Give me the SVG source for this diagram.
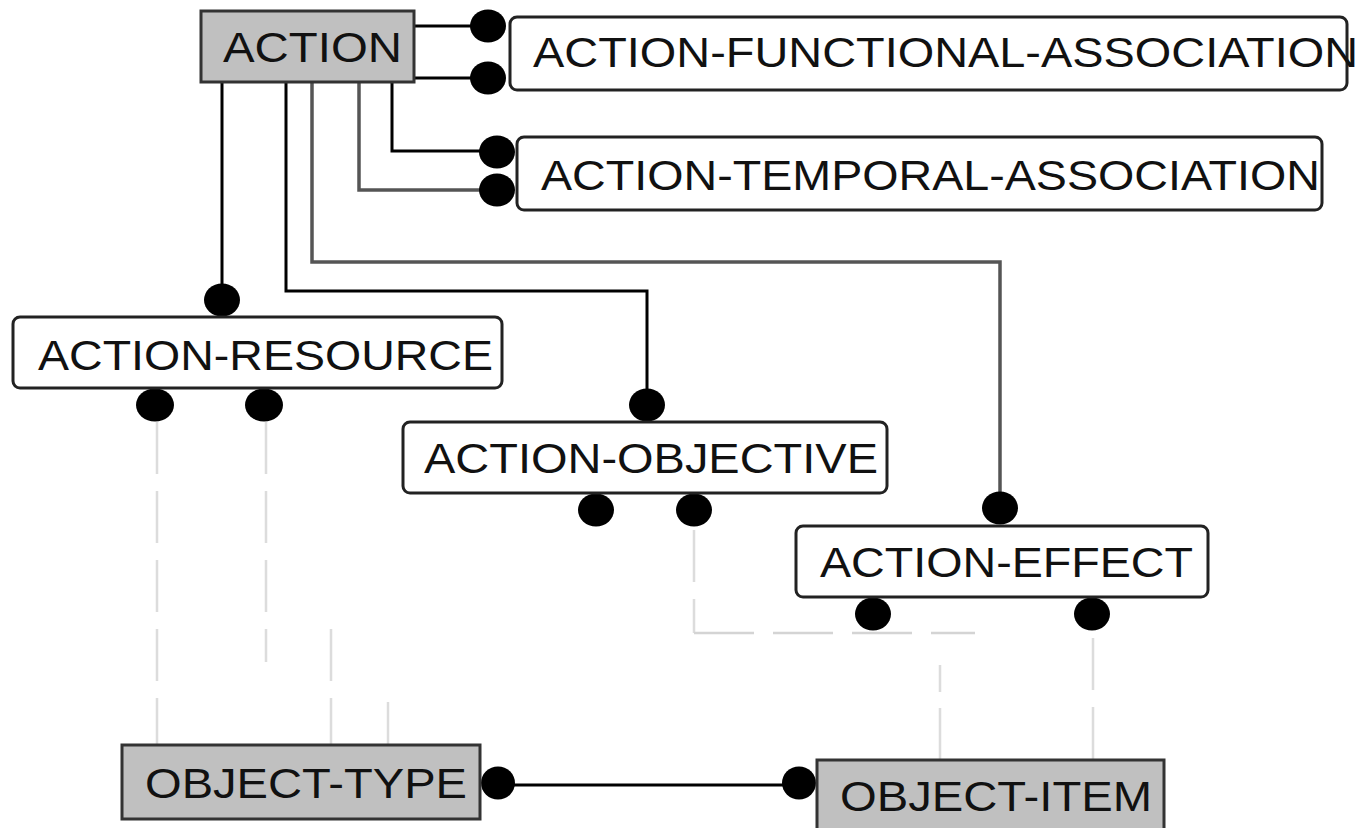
<svg xmlns="http://www.w3.org/2000/svg" width="1368" height="828" viewBox="0 0 1368 828">
<style>
.lbl{font-family:"Liberation Sans",Arial,sans-serif;font-size:42px;fill:#111}
.gbox{fill:#c0c0c0;stroke:#333;stroke-width:3}
.wbox{fill:#fff;stroke:#222;stroke-width:3}
.blk{fill:none;stroke:#000;stroke-width:3}
.gry{fill:none;stroke:#555;stroke-width:3.5}
.dsh{fill:none;stroke:#dcdcdc;stroke-width:2.5;stroke-dasharray:52 17}
.dshh{fill:none;stroke:#d4d4d4;stroke-width:2.5;stroke-dasharray:60 19}
.sol{fill:none;stroke:#dcdcdc;stroke-width:2.5}
.dot{fill:#000}
</style>
<rect width="1368" height="828" fill="#fff"/>
<g id="connectors">
<path class="blk" d="M415,26 H488"/>
<path class="blk" d="M415,78 H488"/>
<path class="blk" d="M392,82 V151 H497"/>
<path class="gry" d="M359,82 V190 H497"/>
<path class="blk" d="M222,82 V300"/>
<path class="blk" d="M286,82 V291 H647 V405"/>
<path class="gry" d="M312,82 V262 H1000 V508"/>
<path class="dsh" d="M157,422 V745"/>
<path class="dsh" d="M266,422 V662"/>
<path class="dsh" d="M331,629 V745"/>
<path class="sol" d="M388,702 V745"/>
<path class="dsh" d="M694,530 V633"/>
<path class="dshh" d="M694,633 H975"/>
<path class="dsh" d="M940,665 V760" style="stroke-dasharray:27 16 52"/>
<path class="dsh" d="M1093,638 V760"/>
<path class="blk" d="M498,785 H798"/>
<ellipse class="dot" cx="488" cy="26" rx="18" ry="16.5"/>
<ellipse class="dot" cx="488" cy="78" rx="18" ry="16.5"/>
<ellipse class="dot" cx="497" cy="152" rx="18" ry="16.5"/>
<ellipse class="dot" cx="497" cy="190" rx="18" ry="16.5"/>
<ellipse class="dot" cx="222" cy="300" rx="18" ry="16.5"/>
<ellipse class="dot" cx="155" cy="405" rx="19" ry="16.5"/>
<ellipse class="dot" cx="264" cy="405" rx="19" ry="16.5"/>
<ellipse class="dot" cx="647" cy="405" rx="18" ry="16.5"/>
<ellipse class="dot" cx="596" cy="510" rx="18" ry="16.5"/>
<ellipse class="dot" cx="694" cy="510" rx="18" ry="16.5"/>
<ellipse class="dot" cx="1000" cy="508" rx="18" ry="16.5"/>
<ellipse class="dot" cx="873" cy="614" rx="18" ry="16.5"/>
<ellipse class="dot" cx="1092" cy="614" rx="18" ry="16.5"/>
<ellipse class="dot" cx="498" cy="783" rx="17" ry="16.5"/>
<ellipse class="dot" cx="799" cy="783" rx="17" ry="16.5"/>
</g>
<g id="action">
<rect class="gbox" x="201" y="11" width="213" height="71"/>
<text class="lbl" x="223" y="62" textLength="179" lengthAdjust="spacingAndGlyphs">ACTION</text>
</g>
<g id="action-functional-association">
<rect class="wbox" x="510" y="17" width="837" height="73" rx="7"/>
<text class="lbl" x="533" y="67" textLength="825" lengthAdjust="spacingAndGlyphs">ACTION-FUNCTIONAL-ASSOCIATION</text>
</g>
<g id="action-temporal-association">
<rect class="wbox" x="517" y="137" width="805" height="73" rx="7"/>
<text class="lbl" x="541" y="190" textLength="779" lengthAdjust="spacingAndGlyphs">ACTION-TEMPORAL-ASSOCIATION</text>
</g>
<g id="action-resource">
<rect class="wbox" x="13" y="317" width="489" height="71" rx="7"/>
<text class="lbl" x="38" y="370" textLength="455" lengthAdjust="spacingAndGlyphs">ACTION-RESOURCE</text>
</g>
<g id="action-objective">
<rect class="wbox" x="403" y="422" width="484" height="71" rx="7"/>
<text class="lbl" x="424" y="473" textLength="454" lengthAdjust="spacingAndGlyphs">ACTION-OBJECTIVE</text>
</g>
<g id="action-effect">
<rect class="wbox" x="796" y="526" width="412" height="71" rx="7"/>
<text class="lbl" x="820" y="577" textLength="373" lengthAdjust="spacingAndGlyphs">ACTION-EFFECT</text>
</g>
<g id="object-type">
<rect class="gbox" x="122" y="745" width="358" height="74"/>
<text class="lbl" x="145" y="798" textLength="322" lengthAdjust="spacingAndGlyphs">OBJECT-TYPE</text>
</g>
<g id="object-item">
<rect class="gbox" x="817" y="760" width="347" height="80"/>
<text class="lbl" x="840" y="811" textLength="312" lengthAdjust="spacingAndGlyphs">OBJECT-ITEM</text>
</g>
</svg>
